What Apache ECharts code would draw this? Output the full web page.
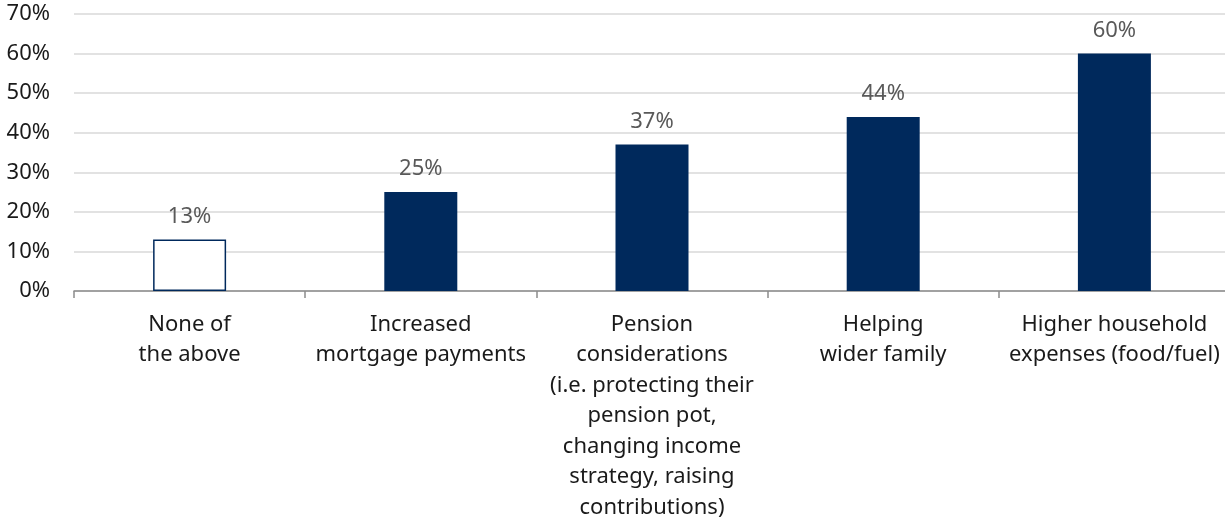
<!DOCTYPE html>
<html>
<head>
<meta charset="utf-8">
<script src="https://cdn.jsdelivr.net/npm/echarts@6/dist/echarts.min.js"></script>
<style>
  html, body { margin: 0; padding: 0; background: #ffffff; overflow: hidden; }
  #chart { width: 1225px; height: 519px; }
</style>
</head>
<body>
<div id="chart"></div>
<script>
// Categories shown along the x axis
const categories = [
  'None of\nthe above',
  'Increased\nmortgage payments',
  'Pension\nconsiderations\n(i.e. protecting their\npension pot,\nchanging income\nstrategy, raising\ncontributions)',
  'Helping\nwider family',
  'Higher household\nexpenses (food/fuel)'
];

// Share of respondents (%)
const values = [13, 25, 37, 44, 60];

// Y axis range and step (%)
const yMin = 0;
const yMax = 70;
const yStep = 10;

const NAVY = '#00295C';
const FONT = '"Noto Sans", "Open Sans", sans-serif';

const seriesData = values.map((v, i) => ({
  value: v,
  itemStyle: i === 0
    ? { color: '#ffffff', borderColor: NAVY, borderWidth: 1.5 }
    : { color: NAVY }
}));

const chart = echarts.init(document.getElementById('chart'), null, { renderer: 'canvas' });
chart.setOption({
  animation: false,
  backgroundColor: '#ffffff',
  grid: { left: 74, right: -5, top: 14, bottom: 228, containLabel: false, outerBoundsMode: 'none' },
  xAxis: {
    type: 'category',
    data: categories,
    axisLine: { lineStyle: { color: '#8c8c8c', width: 1.5 } },
    axisTick: { show: true, alignWithLabel: false, length: 7, lineStyle: { color: '#8c8c8c', width: 1.5 } },
    axisLabel: {
      interval: 0,
      margin: 18,
      color: '#1a1a1a',
      fontFamily: FONT,
      fontSize: 22,
      lineHeight: 30.5,
      align: 'center'
    }
  },
  yAxis: {
    type: 'value',
    min: yMin,
    max: yMax,
    interval: yStep,
    axisLine: { show: false },
    axisTick: { show: false },
    splitLine: { lineStyle: { color: '#d9d9d9', width: 1.5 } },
    axisLabel: {
      formatter: '{value}%',
      margin: 24,
      color: '#1a1a1a',
      fontFamily: FONT,
      fontSize: 22
    }
  },
  series: [{
    type: 'bar',
    data: seriesData,
    barWidth: 73,
    label: {
      show: true,
      position: 'top',
      distance: 12,
      formatter: '{c}%',
      color: '#595959',
      fontFamily: FONT,
      fontSize: 22
    }
  }]
});
</script>
</body>
</html>
